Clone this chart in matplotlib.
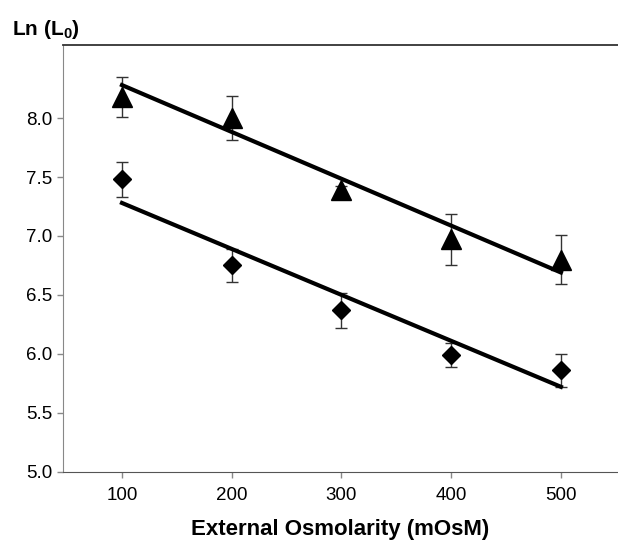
import matplotlib
matplotlib.use("Agg")
import matplotlib.pyplot as plt

# Data
osm = [100, 200, 300, 400, 500]
tri_vals = [8.18, 8.00, 7.39, 6.97, 6.80]
tri_err = [0.17, 0.19, 0.03, 0.22, 0.21]
dia_vals = [7.48, 6.75, 6.37, 5.99, 5.86]
dia_err = [0.15, 0.14, 0.15, 0.10, 0.14]
fit_x = [100, 500]
tri_fit = [8.28, 6.69]
dia_fit = [7.28, 5.72]
xticks = [100, 200, 300, 400, 500]
yticks = [5.0, 5.5, 6.0, 6.5, 7.0, 7.5, 8.0]

plt.rcParams['font.family'] = ['Liberation Sans', 'DejaVu Sans']
plt.rcParams['mathtext.fontset'] = 'custom'
plt.rcParams['mathtext.bf'] = 'Liberation Sans:bold'
plt.rcParams['mathtext.rm'] = 'Liberation Sans'

fig = plt.figure(figsize=(6.18, 5.41), dpi=100)
ax = fig.add_axes([0.1015, 0.1281, 0.8985, 0.7887])

ax.errorbar(osm, tri_vals, yerr=tri_err, fmt='none', ecolor='#333333',
            elinewidth=1, capsize=4, capthick=1, zorder=2)
ax.errorbar(osm, dia_vals, yerr=dia_err, fmt='none', ecolor='#333333',
            elinewidth=1, capsize=4, capthick=1, zorder=2)
ax.plot(osm, tri_vals, linestyle='none', marker='^', markersize=14,
        color='black', zorder=3)
ax.plot(osm, dia_vals, linestyle='none', marker='D', markersize=9.5,
        color='black', zorder=3)
ax.plot(fit_x, tri_fit, color='black', linewidth=3, zorder=4)
ax.plot(fit_x, dia_fit, color='black', linewidth=3, zorder=4)

ax.set_xlim(46, 552)
ax.set_ylim(5.0, 8.62)
ax.set_xticks(xticks)
ax.set_xticklabels([str(v) for v in xticks])
ax.set_yticks(yticks)
ax.set_yticklabels([f"{v:.1f}" for v in yticks])
ax.tick_params(axis='both', labelsize=13.5, colors='#888888', labelcolor='black',
               length=4, width=1, direction='out')
ax.tick_params(axis='x', pad=7)

ax.spines['right'].set_visible(False)
ax.spines['left'].set_color('#888888')
ax.spines['bottom'].set_color('#555555')
ax.spines['top'].set_color('#333333')
ax.spines['top'].set_linewidth(1.3)

ax.set_xlabel('External Osmolarity (mOsM)', fontsize=16, fontweight='bold',
              labelpad=11)
fig.text(0.02, 0.945, r'Ln (L$_\mathbf{0}$)', fontsize=15, fontweight='bold',
         ha='left', va='center')

fig.savefig('out.png', dpi=100)
